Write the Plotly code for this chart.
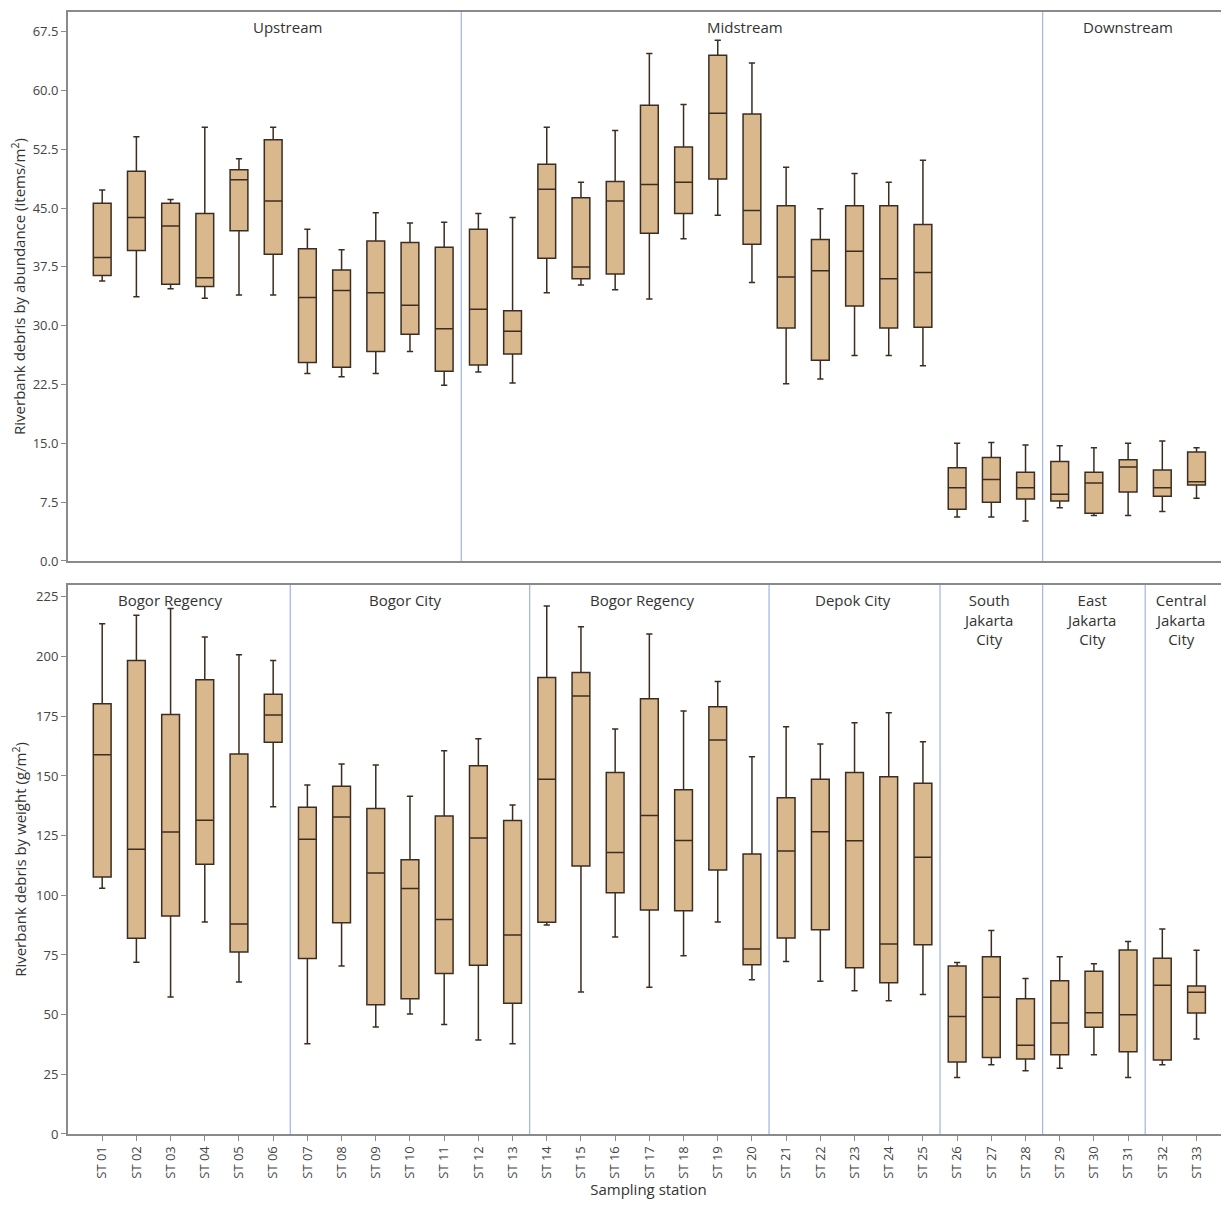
import plotly.graph_objects as go

stations = ["ST 01", "ST 02", "ST 03", "ST 04", "ST 05", "ST 06", "ST 07", "ST 08", "ST 09", "ST 10",
            "ST 11", "ST 12", "ST 13", "ST 14", "ST 15", "ST 16", "ST 17", "ST 18", "ST 19", "ST 20",
            "ST 21", "ST 22", "ST 23", "ST 24", "ST 25", "ST 26", "ST 27", "ST 28", "ST 29", "ST 30",
            "ST 31", "ST 32", "ST 33"]

# Abundance (items/m2)
ab_upper = [47.3, 54.1, 46.1, 55.3, 51.3, 55.3, 42.3, 39.7, 44.4, 43.1, 43.2, 44.3, 43.8, 55.3, 48.3, 54.9, 64.7,
            58.2, 66.4, 63.5, 50.2, 44.9, 49.4, 48.3, 51.1, 15.0, 15.1, 14.8, 14.7, 14.45, 15.0, 15.3, 14.45]
ab_q3 = [45.6, 49.7, 45.6, 44.3, 49.9, 53.7, 39.8, 37.1, 40.8, 40.6, 40.0, 42.3, 31.9, 50.6, 46.3, 48.4, 58.1,
         52.8, 64.5, 57.0, 45.3, 41.0, 45.3, 45.3, 42.9, 11.9, 13.2, 11.3, 12.7, 11.3, 12.9, 11.6, 13.9]
ab_med = [38.7, 43.8, 42.7, 36.1, 48.6, 45.9, 33.6, 34.5, 34.2, 32.6, 29.6, 32.1, 29.3, 47.4, 37.5, 45.9, 48.0,
          48.3, 57.1, 44.7, 36.2, 37.0, 39.5, 36.0, 36.8, 9.35, 10.4, 9.35, 8.5, 9.95, 12.0, 9.35, 10.1]
ab_q1 = [36.4, 39.6, 35.3, 35.0, 42.1, 39.1, 25.3, 24.7, 26.7, 28.9, 24.2, 25.0, 26.4, 38.6, 36.0, 36.6, 41.8,
         44.3, 48.7, 40.4, 29.7, 25.6, 32.5, 29.7, 29.8, 6.6, 7.5, 7.9, 7.65, 6.1, 8.8, 8.25, 9.7]
ab_lower = [35.7, 33.7, 34.7, 33.5, 33.9, 33.9, 23.9, 23.5, 23.9, 26.7, 22.4, 24.1, 22.7, 34.2, 35.2, 34.6, 33.4,
            41.1, 44.1, 35.5, 22.6, 23.2, 26.2, 26.2, 24.9, 5.6, 5.6, 5.1, 6.8, 5.8, 5.8, 6.3, 8.0]

# Weight (g/m2)
wt_upper = [213.8, 217.3, 220.2, 208.2, 200.8, 198.4, 146.2, 155.0, 154.6, 141.5, 160.6, 165.6, 137.8, 221.2,
            212.5, 169.7, 209.5, 177.2, 189.6, 158.1, 170.6, 163.4, 172.3, 176.5, 164.3, 71.8, 85.3, 65.2, 74.3,
            71.3, 80.7, 85.9, 77.0]
wt_q3 = [180.3, 198.4, 175.7, 190.3, 159.2, 184.2, 136.9, 145.7, 136.4, 114.9, 133.2, 154.3, 131.3, 191.2, 193.3,
         151.5, 182.4, 144.2, 179.0, 117.3, 140.9, 148.6, 151.5, 149.7, 146.9, 70.4, 74.3, 56.7, 64.2, 68.2, 77.1,
         73.6, 62.0]
wt_med = [158.9, 119.3, 126.5, 131.4, 88.0, 175.5, 123.5, 132.8, 109.3, 102.9, 89.9, 124.0, 83.4, 148.6, 183.5,
          117.9, 133.4, 123.0, 165.1, 77.5, 118.6, 126.6, 122.9, 79.6, 115.9, 49.2, 57.3, 37.2, 46.5, 50.8, 50.0,
          62.3, 59.4]
wt_q1 = [107.7, 82.0, 91.3, 113.0, 76.2, 164.1, 73.5, 88.5, 54.2, 56.7, 67.2, 70.7, 54.8, 88.7, 112.3, 101.1, 93.8,
         93.5, 110.6, 70.9, 82.1, 85.6, 69.7, 63.4, 79.3, 30.2, 32.0, 31.4, 33.2, 44.7, 34.5, 31.0, 50.7]
wt_lower = [103.0, 72.0, 57.4, 88.8, 63.7, 137.1, 37.8, 70.4, 44.8, 50.3, 45.9, 39.4, 37.8, 87.6, 59.5, 82.5, 61.5,
            74.7, 88.8, 64.6, 72.3, 64.0, 60.0, 55.8, 58.4, 23.7, 29.0, 26.5, 27.5, 33.2, 23.7, 29.0, 39.8]

# Region groupings (label, first station index, last station index)
top_regions = [("Upstream", 0, 10), ("Midstream", 11, 27), ("Downstream", 28, 32)]
top_label_pos = [5.43, 18.8, 30.0]
bottom_regions = [("Bogor Regency", 0, 5), ("Bogor City", 6, 12), ("Bogor Regency", 13, 19),
                  ("Depok City", 20, 24), ("South<br>Jakarta<br>City", 25, 27),
                  ("East<br>Jakarta<br>City", 28, 30), ("Central<br>Jakarta<br>City", 31, 32)]
bottom_label_pos = [2.0, 8.85, 15.8, 21.96, 25.9, 28.9, 31.55]

FILL = "rgb(218,184,142)"
EDGE = "rgb(60,45,32)"
AXC = "#8a8a8a"
FONT = "Open Sans"

fig = go.Figure()
fig.add_trace(go.Box(x=stations, q1=ab_q1, median=ab_med, q3=ab_q3, lowerfence=ab_lower, upperfence=ab_upper,
                     xaxis="x", yaxis="y", fillcolor=FILL, line=dict(color=EDGE, width=1.5),
                     width=0.52, whiskerwidth=0.35, showlegend=False, boxpoints=False))
fig.add_trace(go.Box(x=stations, q1=wt_q1, median=wt_med, q3=wt_q3, lowerfence=wt_lower, upperfence=wt_upper,
                     xaxis="x2", yaxis="y2", fillcolor=FILL, line=dict(color=EDGE, width=1.5),
                     width=0.52, whiskerwidth=0.35, showlegend=False, boxpoints=False))

shapes = []
annotations = []
for i, (lab, a, b) in enumerate(top_regions):
    if i > 0:
        shapes.append(dict(type="line", xref="x", yref="y domain", x0=a - 0.5, x1=a - 0.5, y0=0, y1=1,
                           line=dict(color="rgb(165,185,230)", width=1.3), layer="below"))
    annotations.append(dict(text=lab, xref="x", yref="y domain", x=top_label_pos[i], y=0.995, yanchor="top",
                            showarrow=False, font=dict(family=FONT, size=15, color="#333")))
for i, (lab, a, b) in enumerate(bottom_regions):
    if i > 0:
        shapes.append(dict(type="line", xref="x2", yref="y2 domain", x0=a - 0.5, x1=a - 0.5, y0=0, y1=1,
                           line=dict(color="rgb(165,185,230)", width=1.3), layer="below"))
    annotations.append(dict(text=lab, xref="x2", yref="y2 domain", x=bottom_label_pos[i], y=0.995, yanchor="top",
                            showarrow=False, font=dict(family=FONT, size=15, color="#333")))

xr = [-1.0, 32.95]
axis_common = dict(showline=True, linecolor=AXC, linewidth=2, mirror=True, showgrid=False, zeroline=False,
                   automargin=False)

fig.update_layout(
    width=1221, height=1197,
    margin=dict(l=60, r=0, t=4, b=71),
    plot_bgcolor="white", paper_bgcolor="white",
    font=dict(family=FONT, color="#333"),
    shapes=shapes, annotations=annotations,
    xaxis=dict(domain=[0, 1], anchor="y", type="category", categoryorder="array", categoryarray=stations,
               range=xr, showticklabels=False, ticks="", **axis_common),
    yaxis=dict(domain=[0.5107, 1.0], anchor="x", range=[0, 70], tickvals=[0, 7.5, 15, 22.5, 30, 37.5, 45, 52.5, 60, 67.5],
               tickformat=".1f", ticks="outside", ticklen=5, tickcolor=AXC, tickfont=dict(size=13, color="#444"),
               title=dict(text="Riverbank debris by abundance (items/m<sup>2</sup>)", font=dict(size=15, color="#333"),
                          standoff=6),
               **axis_common),
    xaxis2=dict(domain=[0, 1], anchor="y2", type="category", categoryorder="array", categoryarray=stations,
                range=xr, ticks="outside", ticklen=5, tickcolor=AXC, tickangle=-90,
                tickfont=dict(size=13, color="#444"),
                title=dict(text="Sampling station", font=dict(size=15, color="#333"), standoff=6),
                **axis_common),
    yaxis2=dict(domain=[0, 0.4893], anchor="x2", range=[0, 230], tickvals=[0, 25, 50, 75, 100, 125, 150, 175, 200, 225],
                ticks="outside", ticklen=5, tickcolor=AXC, tickfont=dict(size=13, color="#444"),
                title=dict(text="Riverbank debris by weight (g/m<sup>2</sup>)", font=dict(size=15, color="#333"),
                           standoff=6),
                **axis_common),
)

fig.write_html("out.html")
